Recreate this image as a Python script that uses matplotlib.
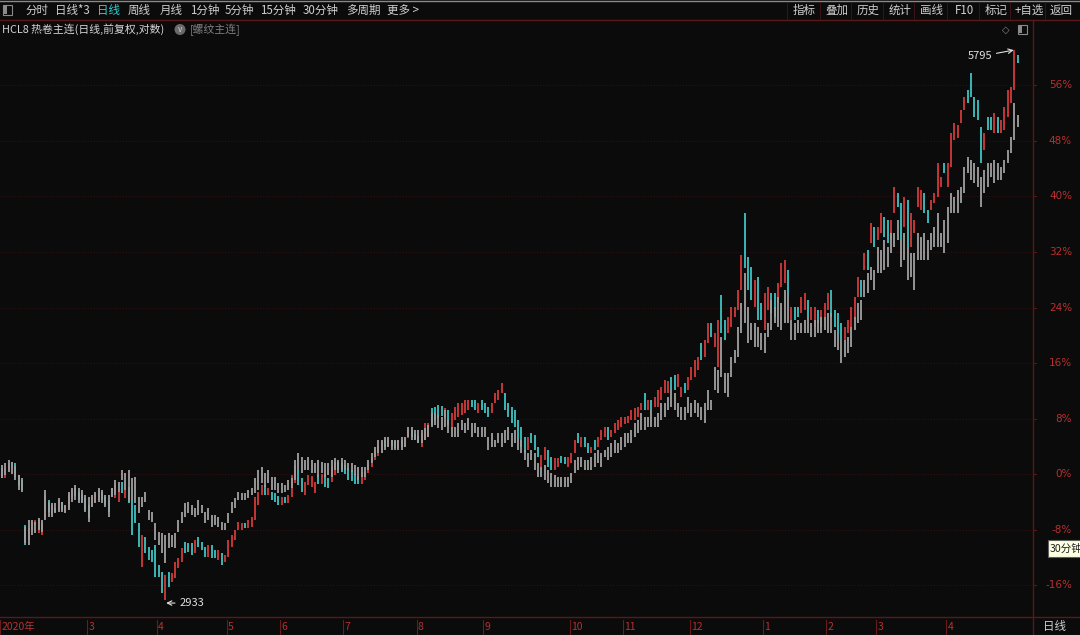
import matplotlib
matplotlib.use('Agg')
import matplotlib.pyplot as plt
from matplotlib.patches import Rectangle, Ellipse
from matplotlib.lines import Line2D
from matplotlib.transforms import blended_transform_factory

plt.rcParams['font.family'] = ['Noto Sans CJK SC', 'DejaVu Sans']

# ---------------- data (percent change vs. base) ----------------
hcl_open = [
    0.9, -0.6, 0.6, 0.9, 1.6, -0.1, -0.9, -7.3, -9.5, -8.1,
    -7.3, -8.5, -8.8, -6.3, -3.7, -5.9, -4.9, -5.2, -4.0, -5.5,
    -4.9, -3.5, -2.0, -2.6, -2.9, -3.5, -4.5, -4.6, -4.0, -3.7,
    -2.6, -3.3, -3.7, -2.0, -3.5, -4.0, -1.2, -3.5, -1.9, -3.7,
    -4.5, -7.1, -13.4, -9.1, -10.5, -11.0, -10.2, -13.1, -14.1, -18.2,
    -14.1, -15.6, -15.0, -13.5, -12.7, -9.8, -9.9, -9.9, -11.4, -9.1,
    -9.8, -10.5, -12.0, -10.2, -11.0, -12.4, -11.4, -12.7, -12.0, -10.5,
    -9.5, -8.1, -8.1, -7.1, -7.8, -7.6, -6.6, -4.5, -3.0, -1.6,
    -3.0, -2.6, -2.7, -3.2, -4.5, -3.3, -4.2, -3.3, -1.3, 0.6,
    -0.6, -3.0, -1.6, -1.9, -2.7, -0.1, -1.4, 0.0, -0.6, -1.2,
    -0.1, 1.7, 1.6, 1.3, 0.9, 0.6, 0.0, -0.3, -1.4, -0.9,
    0.1, 1.0, 2.0, 2.6, 3.5, 4.9, 3.9, 4.9, 4.8, 3.7,
    4.9, 3.9, 5.2, 6.3, 5.8, 5.5, 3.9, 4.9, 5.3, 9.5,
    9.7, 9.9, 9.8, 8.1, 9.2, 6.8, 7.8, 8.2, 8.5, 8.8,
    9.2, 10.7, 10.7, 8.8, 10.7, 10.2, 9.7, 8.8, 10.2, 10.7,
    11.7, 11.7, 10.2, 9.7, 9.2, 7.8, 6.8, 5.3, 3.5, 5.9,
    5.6, 3.9, 1.0, 2.0, 3.5, 2.4, 0.6, 1.0, 2.6, 2.4,
    1.0, 1.6, 3.0, 5.9, 3.9, 5.3, 4.5, 3.0, 4.9, 3.9,
    4.9, 5.3, 6.8, 5.3, 5.9, 6.3, 6.8, 7.2, 7.3, 7.8,
    7.8, 8.2, 9.2, 11.7, 9.2, 10.7, 9.7, 9.7, 10.7, 11.7,
    11.7, 14.0, 14.3, 12.5, 11.1, 13.1, 12.1, 13.5, 14.0, 15.0,
    18.9, 16.9, 18.9, 21.8, 18.3, 15.4, 25.8, 22.2, 20.3, 21.2,
    22.6, 23.6, 26.5, 37.6, 31.3, 29.8, 24.1, 28.4, 24.6, 20.7,
    23.6, 26.1, 26.1, 24.6, 26.9, 27.5, 29.4, 22.2, 24.1, 24.1,
    23.2, 23.6, 25.1, 22.2, 21.2, 23.6, 21.2, 22.6, 23.6, 26.5,
    23.6, 23.2, 21.8, 19.3, 20.3, 21.2, 22.6, 25.5, 28.0, 29.4,
    32.3, 33.3, 35.6, 33.7, 34.7, 37.0, 36.6, 33.7, 37.6, 40.5,
    39.1, 35.6, 39.5, 32.7, 34.7, 38.5, 38.0, 40.5, 38.0, 38.0,
    39.1, 39.9, 41.4, 44.8, 41.4, 44.2, 48.1, 48.4, 50.6, 52.5,
    55.3, 57.8, 54.3, 53.9, 50.0, 46.7, 51.4, 51.4, 49.1, 51.4,
    49.1, 49.6, 51.4, 53.5, 55.3, 60.4,
]
hcl_close = [
    -0.6, 0.9, 1.6, 1.7, -0.4, -1.7, -2.3, -10.2, -7.8, -6.9,
    -6.6, -6.6, -7.1, -3.0, -5.5, -4.5, -5.5, -3.7, -5.2, -4.6,
    -2.9, -2.3, -3.2, -3.7, -4.0, -5.2, -6.3, -3.3, -2.9, -2.3,
    -3.7, -4.5, -5.5, -3.3, -1.6, -2.6, -2.7, -2.3, -4.2, -8.8,
    -7.1, -10.5, -8.8, -11.4, -12.4, -12.7, -14.8, -14.8, -17.1, -14.6,
    -16.3, -14.3, -12.7, -12.1, -10.7, -11.4, -11.2, -11.7, -9.5, -10.5,
    -11.0, -12.0, -10.2, -12.1, -12.1, -11.0, -13.1, -11.7, -9.5, -8.8,
    -8.1, -6.9, -7.1, -7.8, -6.6, -6.2, -3.3, -2.6, -1.6, -3.0,
    -2.0, -3.7, -4.0, -4.5, -3.3, -4.2, -3.0, -0.1, 1.3, -1.6,
    -2.6, -1.2, -0.1, -0.3, -1.2, -1.4, 0.0, -1.9, -2.0, 1.0,
    1.7, 0.6, 0.3, 0.0, -0.9, -1.0, -1.4, -1.4, 0.3, 0.3,
    1.6, 2.4, 3.5, 4.0, 4.6, 3.9, 4.9, 4.0, 3.7, 4.9,
    3.9, 5.2, 6.3, 5.3, 4.9, 4.5, 5.9, 7.3, 7.3, 7.1,
    7.8, 8.1, 8.4, 9.5, 7.1, 8.8, 9.7, 10.2, 10.2, 10.7,
    10.7, 9.7, 9.2, 10.2, 9.2, 8.8, 8.2, 10.2, 11.7, 12.1,
    13.1, 9.2, 8.2, 7.3, 6.8, 5.3, 3.9, 3.0, 5.3, 4.5,
    3.5, 2.4, 2.7, 3.9, 1.0, 0.6, 2.3, 2.3, 1.6, 1.4,
    2.4, 3.0, 4.9, 4.5, 5.3, 3.9, 3.0, 3.9, 3.5, 5.3,
    6.3, 6.8, 4.9, 6.3, 7.3, 7.8, 8.2, 8.2, 8.4, 9.2,
    9.5, 9.7, 10.2, 9.2, 10.7, 9.2, 11.1, 12.1, 12.5, 13.5,
    13.4, 12.1, 12.1, 14.4, 12.5, 11.7, 14.0, 15.4, 16.4, 16.9,
    16.4, 19.3, 21.8, 19.7, 20.3, 22.2, 20.3, 19.3, 22.6, 24.1,
    24.1, 26.5, 31.6, 29.7, 26.5, 25.1, 28.0, 22.2, 22.2, 26.1,
    26.9, 23.2, 22.6, 27.5, 30.4, 30.8, 26.1, 24.1, 22.2, 22.6,
    25.5, 26.1, 22.6, 24.1, 24.1, 21.8, 23.6, 24.6, 26.1, 22.6,
    21.2, 20.3, 19.3, 21.2, 22.2, 24.1, 25.5, 28.4, 25.5, 31.8,
    29.4, 36.2, 32.7, 35.6, 37.6, 34.2, 33.3, 36.6, 41.4, 38.5,
    33.7, 39.9, 32.7, 37.6, 36.6, 41.4, 40.9, 37.6, 36.2, 39.5,
    40.5, 44.8, 42.8, 43.4, 44.8, 49.1, 50.6, 50.3, 52.5, 54.3,
    53.5, 54.3, 51.4, 51.0, 44.8, 49.1, 49.6, 49.6, 52.0, 49.1,
    51.0, 52.9, 55.3, 55.8, 61.1, 59.2,
]
rb_high = [
    1.3, 1.6, 2.0, 1.7, 1.2, -0.1, -0.6, -7.6, -6.6, -6.6,
    -6.9, -6.3, -6.6, -2.3, -4.0, -4.2, -4.2, -3.5, -4.0, -4.5,
    -2.6, -2.0, -1.6, -2.0, -2.3, -3.0, -3.3, -3.0, -2.6, -2.0,
    -2.3, -3.0, -3.0, -2.0, -0.9, -1.2, 0.6, 0.1, 0.6, -0.6,
    -0.4, -3.3, -3.3, -2.6, -5.2, -5.5, -7.1, -8.4, -8.5, -8.8,
    -8.5, -8.8, -8.5, -6.6, -5.5, -4.2, -4.0, -4.5, -4.9, -3.7,
    -4.5, -5.5, -4.9, -5.9, -5.9, -6.2, -6.9, -7.1, -5.6, -4.0,
    -3.5, -2.6, -2.7, -2.7, -2.3, -2.0, -0.6, 0.6, 1.0, 0.1,
    0.6, -0.4, -0.4, -1.3, -1.3, -1.6, -0.9, -0.6, 2.0, 3.0,
    2.4, 2.0, 2.4, 2.0, 1.6, 2.0, 1.7, 1.6, 1.6, 2.0,
    2.3, 2.0, 2.3, 2.0, 1.6, 1.6, 1.3, 1.0, 1.0, 1.0,
    2.0, 3.0, 3.9, 4.9, 4.9, 5.3, 5.3, 4.9, 4.9, 4.9,
    5.3, 5.3, 6.8, 6.8, 6.3, 6.3, 6.3, 6.6, 7.1, 8.8,
    8.8, 8.5, 8.2, 9.2, 7.8, 6.8, 6.8, 7.3, 7.8, 7.3,
    8.1, 7.3, 7.3, 6.8, 6.8, 6.8, 5.3, 5.9, 4.9, 5.9,
    5.9, 6.3, 6.8, 5.9, 6.3, 5.3, 4.9, 3.5, 3.0, 3.5,
    3.0, 1.6, 1.0, 1.3, 0.6, 0.1, -0.1, -0.4, -0.4, -0.4,
    -0.4, 0.1, 2.0, 2.4, 2.4, 2.0, 2.0, 2.4, 3.0, 3.5,
    3.0, 3.5, 3.9, 4.5, 4.9, 4.5, 5.3, 5.9, 5.9, 6.3,
    7.3, 7.8, 8.8, 8.2, 8.2, 9.2, 8.2, 8.8, 10.2, 10.2,
    11.1, 12.1, 11.7, 10.2, 9.7, 9.7, 11.1, 10.2, 10.7, 10.2,
    9.7, 10.2, 12.1, 10.7, 15.4, 15.0, 19.7, 14.6, 14.6, 16.9,
    17.9, 21.2, 24.6, 29.0, 24.1, 21.8, 21.8, 21.2, 20.3, 20.3,
    21.8, 25.1, 24.1, 25.5, 24.6, 26.5, 26.1, 22.2, 21.8, 22.2,
    21.8, 22.2, 22.6, 21.8, 22.2, 22.2, 22.6, 22.6, 23.2, 23.2,
    20.7, 20.3, 19.3, 19.3, 19.7, 21.2, 22.6, 24.6, 25.1, 28.0,
    29.0, 29.8, 29.4, 32.7, 32.3, 33.7, 32.7, 34.7, 34.7, 36.6,
    33.7, 34.7, 32.7, 31.8, 31.8, 34.7, 34.2, 34.7, 33.7, 34.7,
    35.6, 37.6, 34.7, 36.6, 38.5, 40.5, 39.9, 40.9, 41.4, 44.2,
    45.7, 45.2, 44.8, 44.2, 42.8, 43.8, 44.8, 44.8, 45.2, 44.8,
    44.2, 45.2, 46.7, 48.6, 53.5, 51.7,
]
rb_low = [
    -0.6, -0.1, 0.3, 0.0, -0.9, -2.3, -2.6, -9.9, -10.2, -8.8,
    -8.5, -8.1, -8.4, -6.6, -6.2, -6.2, -5.6, -5.5, -5.5, -5.6,
    -5.2, -4.0, -3.7, -4.2, -4.2, -5.5, -6.9, -4.8, -4.2, -4.0,
    -4.2, -4.8, -6.2, -3.3, -3.0, -2.6, -0.9, -2.3, -4.0, -3.7,
    -4.2, -5.6, -4.8, -4.0, -6.6, -6.9, -9.5, -10.2, -11.4, -12.8,
    -10.7, -10.5, -10.7, -8.4, -7.1, -6.2, -5.6, -5.9, -6.2, -5.9,
    -5.6, -7.1, -6.6, -7.6, -7.3, -7.6, -8.1, -8.1, -7.1, -5.6,
    -4.9, -3.7, -3.7, -3.7, -3.5, -3.0, -2.7, -2.3, -1.3, -1.9,
    -1.3, -2.3, -2.3, -2.7, -2.7, -2.6, -2.3, -2.0, -0.9, 0.6,
    0.1, 0.6, 0.6, 0.1, 0.1, -0.4, 0.1, -0.4, -0.1, -0.4,
    0.6, 0.1, 0.6, 0.6, 0.6, 0.3, -0.1, -0.9, -0.4, -0.4,
    0.6, 1.6, 2.4, 3.0, 3.0, 3.5, 3.9, 3.5, 3.5, 3.5,
    3.5, 3.9, 5.3, 4.9, 4.9, 4.5, 4.5, 4.9, 5.3, 6.8,
    7.1, 6.6, 6.3, 6.8, 5.9, 5.3, 5.3, 5.3, 6.3, 5.9,
    6.3, 5.3, 5.9, 5.3, 5.3, 5.3, 3.5, 3.9, 3.9, 4.5,
    3.9, 4.5, 4.9, 3.9, 4.5, 3.5, 3.0, 2.0, 1.0, 2.0,
    0.6, -0.4, -0.4, -0.9, -1.3, -1.9, -1.9, -1.9, -1.9, -1.9,
    -1.9, -1.3, 0.1, 0.6, 1.0, 0.6, 0.6, 0.6, 1.0, 1.6,
    1.0, 2.4, 2.0, 2.4, 3.0, 3.0, 3.5, 3.9, 4.5, 4.5,
    5.3, 5.9, 6.3, 6.3, 6.8, 6.8, 6.8, 6.8, 7.8, 8.2,
    9.2, 9.7, 9.2, 8.2, 7.8, 7.8, 8.8, 8.2, 8.8, 8.2,
    7.8, 7.3, 9.2, 9.2, 12.1, 11.7, 14.0, 11.7, 11.1, 14.0,
    16.0, 16.9, 20.3, 21.8, 18.9, 19.3, 18.3, 18.3, 17.9, 17.4,
    19.7, 20.7, 21.8, 21.2, 20.7, 21.8, 21.8, 19.3, 19.3, 20.3,
    20.3, 20.3, 20.3, 19.7, 19.7, 20.3, 20.3, 20.7, 20.3, 20.3,
    18.3, 17.9, 16.0, 16.9, 17.4, 18.3, 20.7, 21.8, 22.2, 25.5,
    26.1, 28.0, 26.5, 29.0, 29.0, 29.4, 29.8, 31.8, 32.7, 33.7,
    29.8, 30.8, 28.0, 28.4, 26.5, 30.8, 30.8, 30.8, 30.8, 32.3,
    32.7, 32.7, 32.7, 31.8, 33.3, 37.6, 37.6, 37.6, 39.1, 40.5,
    43.4, 42.4, 41.9, 41.4, 38.5, 40.5, 41.4, 42.8, 41.9, 42.4,
    42.4, 43.4, 44.8, 46.3, 48.1, 50.0,
]
month_idx = [0, 26, 47, 68, 84, 103, 125, 145, 171, 187, 207, 229, 248, 263, 284]
month_labels = ['2020年', '3', '4', '5', '6', '7', '8', '9', '10', '11', '12', '1', '2', '3', '4']
pct_ticks = [56, 48, 40, 32, 24, 16, 8, 0, -8, -16]
low_label, low_idx, low_val = '2933', 49, -18.2
high_label, high_idx, high_val = '5795', 304, 61.1
toolbar_left = ['分时', '日线*3', '日线', '周线', '月线', '1分钟', '5分钟', '15分钟', '30分钟', '多周期', '更多 >']
toolbar_left_x = [25, 55, 97, 128, 160, 190, 225, 260, 303, 346, 387]
toolbar_right = ['指标', '叠加', '历史', '统计', '画线', 'F10', '标记', '+自选', '返回']
toolbar_right_x = [793, 825, 857, 889, 920, 955, 985, 1015, 1050]

# ---------------- styling ----------------
BG = '#0b0b0b'
RED = '#d23a3a'
CYAN = '#40c4c4'
GRAY = '#a0a0a0'
DARKRED = '#5a1818'
AXRED = '#b83030'
TXT = '#cfcfcf'

W, H = 1080, 635
fig = plt.figure(figsize=(W / 100, H / 100), dpi=100, facecolor=BG)

def fx(x):
    return x / W

def fy(y):
    return 1 - y / H

# main axes: px x 0..1033, y 20..617
ax = fig.add_axes([0, fy(617), fx(1033), (617 - 20) / H])
ax.set_facecolor(BG)
for s in ax.spines.values():
    s.set_visible(False)
ax.set_xticks([])
ax.set_yticks([])
ax.set_xlim(-0.6, 309.6)
ax.set_ylim(-20.61, 65.44)

# grid
for p in pct_ticks:
    ax.axhline(p, color='#3a1010', lw=0.7, ls=(0, (1, 2)), zorder=0)

n = min(len(hcl_open), len(hcl_close), len(rb_high), len(rb_low))
xs = list(range(n))
up_x = [i for i in xs if hcl_close[i] >= hcl_open[i]]
dn_x = [i for i in xs if hcl_close[i] < hcl_open[i]]
ax.vlines(up_x, [hcl_open[i] for i in up_x], [hcl_close[i] for i in up_x],
          color=RED, lw=1.3, zorder=2)
ax.vlines(dn_x, [hcl_close[i] for i in dn_x], [hcl_open[i] for i in dn_x],
          color=CYAN, lw=1.3, zorder=2)
ax.vlines(xs, rb_low[:n], rb_high[:n], color=GRAY, lw=1.3, zorder=3)

# annotations
ax.annotate(low_label, xy=(low_idx + 0.3, low_val - 0.4), xytext=(low_idx + 4.2, low_val - 0.4),
            color='#e0e0e0', fontsize=8, va='center', ha='left',
            arrowprops=dict(arrowstyle='->', color='#e0e0e0', lw=0.8, shrinkA=1, shrinkB=0),
            annotation_clip=False, zorder=5)
ax.annotate(high_label, xy=(high_idx - 0.2, high_val), xytext=(high_idx - 14, high_val - 0.9),
            color='#e0e0e0', fontsize=8, va='center', ha='left',
            arrowprops=dict(arrowstyle='->', color='#e0e0e0', lw=0.8, shrinkA=1, shrinkB=0),
            annotation_clip=False, zorder=5)

# right axis labels
tr_r = blended_transform_factory(ax.transAxes, ax.transData)
for p in pct_ticks:
    ax.text(1072 / 1033, p, f'{p}%', transform=tr_r, ha='right', va='center',
            color=AXRED, fontsize=7.5, clip_on=False, family=['DejaVu Sans'])
    ax.add_line(Line2D([1.0, 1036 / 1033], [p, p], transform=tr_r, color=DARKRED,
                       lw=0.8, clip_on=False))

# bottom month labels
tr_b = blended_transform_factory(ax.transData, fig.transFigure)
for idx, lab in zip(month_idx, month_labels):
    ax.add_line(Line2D([idx - 0.5, idx - 0.5], [fy(620), fy(634)], transform=tr_b,
                       color='#6a1c1c', lw=0.8, clip_on=False))
    ax.text(idx - 0.1, fy(627), lab, transform=tr_b, ha='left', va='center',
            color=AXRED, fontsize=7.5, clip_on=False)

# frame lines
fig.add_artist(Line2D([0, 1], [fy(0.5), fy(0.5)], color='#8a8a8a', lw=1))
fig.add_artist(Line2D([0, 1], [fy(20), fy(20)], color=DARKRED, lw=1))
fig.add_artist(Line2D([0, 1], [fy(617), fy(617)], color=DARKRED, lw=1))
fig.add_artist(Line2D([0, 1], [fy(634.5), fy(634.5)], color='#3a1010', lw=1))
fig.add_artist(Line2D([fx(1033), fx(1033)], [fy(20), fy(635)], color=DARKRED, lw=1))

# toolbar
fig.add_artist(Rectangle((fx(3), fy(15)), fx(9), 10 / H, facecolor='none', edgecolor='#8a8a8a', lw=0.8))
fig.add_artist(Rectangle((fx(4), fy(14)), fx(3), 8 / H, facecolor='#8a8a8a', edgecolor='none'))
for s, x in zip(toolbar_left, toolbar_left_x):
    fig.text(fx(x), fy(10.5), s, ha='left', va='center', fontsize=8.3,
             color=('#35d0d0' if s == '日线' else TXT))
for s, x in zip(toolbar_right, toolbar_right_x):
    fig.text(fx(x), fy(10.5), s, ha='left', va='center', fontsize=8.3, color=TXT)
for x in [787, 820, 851, 883, 914, 947, 979, 1010, 1045]:
    fig.add_artist(Line2D([fx(x), fx(x)], [fy(2), fy(19)], color='#3a1212', lw=0.8))

# title row
fig.text(fx(2), fy(29.5), 'HCL8 热卷主连(日线,前复权,对数)', ha='left', va='center',
         fontsize=7.8, color='#d4d4d4')
fig.add_artist(Ellipse((fx(180), fy(29.5)), 11 / W, 11 / H, facecolor='#6a6a6a', edgecolor='none'))
fig.text(fx(180), fy(29.8), 'v', ha='center', va='center', fontsize=6, color='#d0d0d0')
fig.text(fx(190), fy(29.5), '[螺纹主连]', ha='left', va='center', fontsize=7.8, color='#808080')
fig.text(fx(1006), fy(29.5), '◇', ha='center', va='center', fontsize=7, color='#8a8a8a',
         family=['DejaVu Sans'])
fig.add_artist(Rectangle((fx(1018), fy(34)), fx(9), 9 / H, facecolor='none', edgecolor='#8a8a8a', lw=0.8))
fig.add_artist(Rectangle((fx(1019), fy(33)), fx(3), 7 / H, facecolor='#8a8a8a', edgecolor='none'))

# tooltip (cut off at the right edge, as in the reference) & bottom-right label
fig.add_artist(Rectangle((fx(1048), fy(557)), fx(40), 17 / H, facecolor='#ffffe1',
                         edgecolor='#606060', lw=0.8))
fig.text(fx(1050), fy(548.5), '30分钟', ha='left', va='center', fontsize=7.6, color='#202020')
fig.text(fx(1043), fy(626.5), '日线', ha='left', va='center', fontsize=8.3, color=TXT)

fig.savefig('out.png', dpi=100, facecolor=BG)
